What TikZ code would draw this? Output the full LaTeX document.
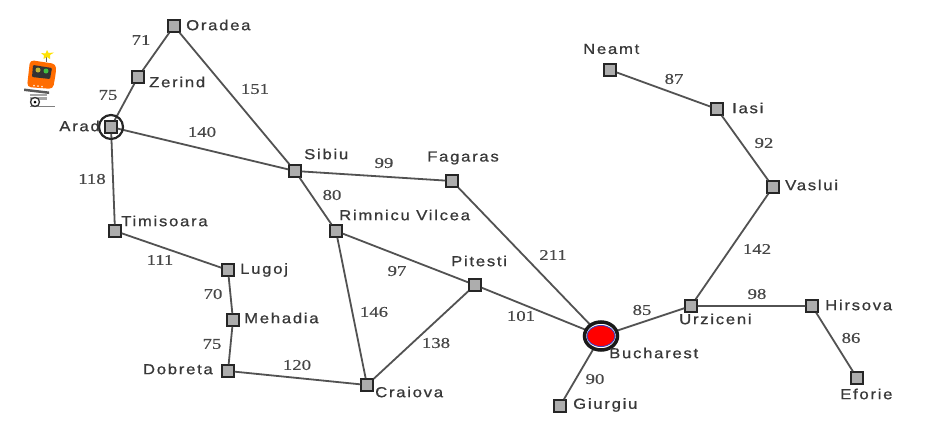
\documentclass[tikz,border=0pt]{standalone}
\usepackage{fontspec}
\newfontfamily\distserif[FakeStretch=1.25,FakeBold=0.4]{Liberation Serif}
\newfontfamily\citysans[LetterSpace=12,FakeStretch=1.15,FakeBold=0.8]{Liberation Sans}
\begin{document}
\begin{tikzpicture}[x=1pt,y=-1pt,
  city/.style={draw=black!85,line width=2pt,fill=black!32,minimum size=11.5pt,inner sep=0pt,rectangle},
  road/.style={draw=black!68,line width=1.8pt},
  lab/.style={font=\citysans\fontsize{14.5}{15}\selectfont,text=black!78,inner sep=0pt},
  dist/.style={font=\distserif\fontsize{15}{16}\selectfont,text=black!72,inner sep=0pt}]
\useasboundingbox (0,0) rectangle (930,431);
\fill[white] (0,0) rectangle (930,431);
% nodes
\node[city] (oradea) at (174,26) {};
\node[city] (zerind) at (138,77) {};
\node[city] (arad) at (111,127) {};
\node[city] (sibiu) at (295,171) {};
\node[city] (fagaras) at (452,181) {};
\node[city] (rimnicu) at (336,231) {};
\node[city] (timisoara) at (115,231) {};
\node[city] (lugoj) at (228,270) {};
\node[city] (mehadia) at (233,320) {};
\node[city] (dobreta) at (228,371) {};
\node[city] (craiova) at (367,385) {};
\node[city] (pitesti) at (475,285) {};
\node[circle,minimum size=30pt,inner sep=0pt] (bucharest) at (601,336) {};
\node[city] (giurgiu) at (560,406) {};
\node[city] (urziceni) at (691,306) {};
\node[city] (hirsova) at (812,306) {};
\node[city] (eforie) at (857,378) {};
\node[city] (vaslui) at (773,187) {};
\node[city] (iasi) at (717,109) {};
\node[city] (neamt) at (610,70) {};
% roads
\draw[road] (oradea) -- (zerind) -- (arad);
\draw[road] (oradea) -- (sibiu);
\draw[road] (arad) -- (sibiu);
\draw[road] (arad) -- (timisoara) -- (lugoj) -- (mehadia) -- (dobreta) -- (craiova);
\draw[road] (sibiu) -- (fagaras) -- (bucharest);
\draw[road] (sibiu) -- (rimnicu) -- (craiova) -- (pitesti);
\draw[road] (rimnicu) -- (pitesti) -- (bucharest);
\draw[road] (bucharest) -- (giurgiu);
\draw[road] (bucharest) -- (urziceni) -- (hirsova) -- (eforie);
\draw[road] (urziceni) -- (vaslui) -- (iasi) -- (neamt);
% goal and start markers
\node[draw=black!85,line width=2.2pt,circle,minimum size=24pt,inner sep=0pt] (aradring) at (arad) {};
\draw[black!90,line width=3.5pt,fill=white] (601,336) ellipse (16.5 and 14);
\draw[blue!50!gray,line width=.9pt,fill=red] (601,336) ellipse (14 and 10.5);
% city labels
\node[lab,anchor=west] at (186,25) {Oradea};
\node[lab,anchor=west] at (149,82) {Zerind};
\node[lab,anchor=east] at (100,126) {Arad};
\node[lab,anchor=west] at (304,154) {Sibiu};
\node[lab,anchor=west] at (427,158) {Fagaras};
\node[lab,anchor=west] at (339,215) {Rimnicu Vilcea};
\node[lab,anchor=west] at (121,221) {Timisoara};
\node[lab,anchor=west] at (240,270) {Lugoj};
\node[lab,anchor=west] at (244,318) {Mehadia};
\node[lab,anchor=east] at (213,369) {Dobreta};
\node[lab,anchor=west] at (375,392) {Craiova};
\node[lab,anchor=west] at (451,261) {Pitesti};
\node[lab,anchor=west] at (609,353) {Bucharest};
\node[lab,anchor=west] at (573,405) {Giurgiu};
\node[lab,anchor=west] at (679,319) {Urziceni};
\node[lab,anchor=west] at (825,305) {Hirsova};
\node[lab,anchor=west] at (840,394) {Eforie};
\node[lab,anchor=west] at (785,185) {Vaslui};
\node[lab,anchor=west] at (732,108) {Iasi};
\node[lab,anchor=west] at (583,49) {Neamt};
% distances
\node[dist] at (141,40) {71};
\node[dist] at (108,95) {75};
\node[dist] at (255,89) {151};
\node[dist] at (202,132) {140};
\node[dist] at (92,179) {118};
\node[dist] at (384,163) {99};
\node[dist] at (332,195) {80};
\node[dist] at (160,260) {111};
\node[dist] at (213,294) {70};
\node[dist] at (212,344) {75};
\node[dist] at (297,365) {120};
\node[dist] at (397,271) {97};
\node[dist] at (374,312) {146};
\node[dist] at (436,343) {138};
\node[dist] at (521,316) {101};
\node[dist] at (553,255) {211};
\node[dist] at (642,310) {85};
\node[dist] at (595,379) {90};
\node[dist] at (757,294) {98};
\node[dist] at (851,338) {86};
\node[dist] at (757,249) {142};
\node[dist] at (764,143) {92};
\node[dist] at (674,79) {87};
% robot
\draw[black!50,line width=.5pt] (30,106) -- (55,106);
\draw[black!60,line width=1pt] (46,57) -- (46,62);
\fill[yellow!85!orange] (47,50) -- (48.5,53) -- (54,52.5) -- (50,55) -- (50,59) -- (47,57) -- (43.5,59) -- (44,55.5) -- (41,53) -- (45.5,53.5) -- cycle;
\fill[orange!85!red,rounded corners=4pt] (30,60) -- (56,64) -- (56,72) -- (53,89) -- (27,87) -- cycle;
\fill[black!80,rounded corners=1pt] (33,65) -- (52,68) -- (50,79) -- (32,77) -- cycle;
\fill[yellow!70!black] (38,70) circle (2.5);
\fill[green!50!gray] (46,71) circle (2.5);
\fill[white!80!orange] (34,85.5) circle (1) (38,86) circle (1) (42,86.5) circle (1);
\fill[black!65] (24,88.5) -- (49,91.5) -- (49,94) -- (24,91) -- cycle;
\fill[black!35] (30,94) rectangle (47,100);
\draw[white,line width=.6pt] (30,96.5) -- (47,96.5);
\draw[black!80,line width=1.3pt,fill=white] (35,102) circle (4.5);
\fill[black] (35,102) circle (1.5);
\end{tikzpicture}
\end{document}
